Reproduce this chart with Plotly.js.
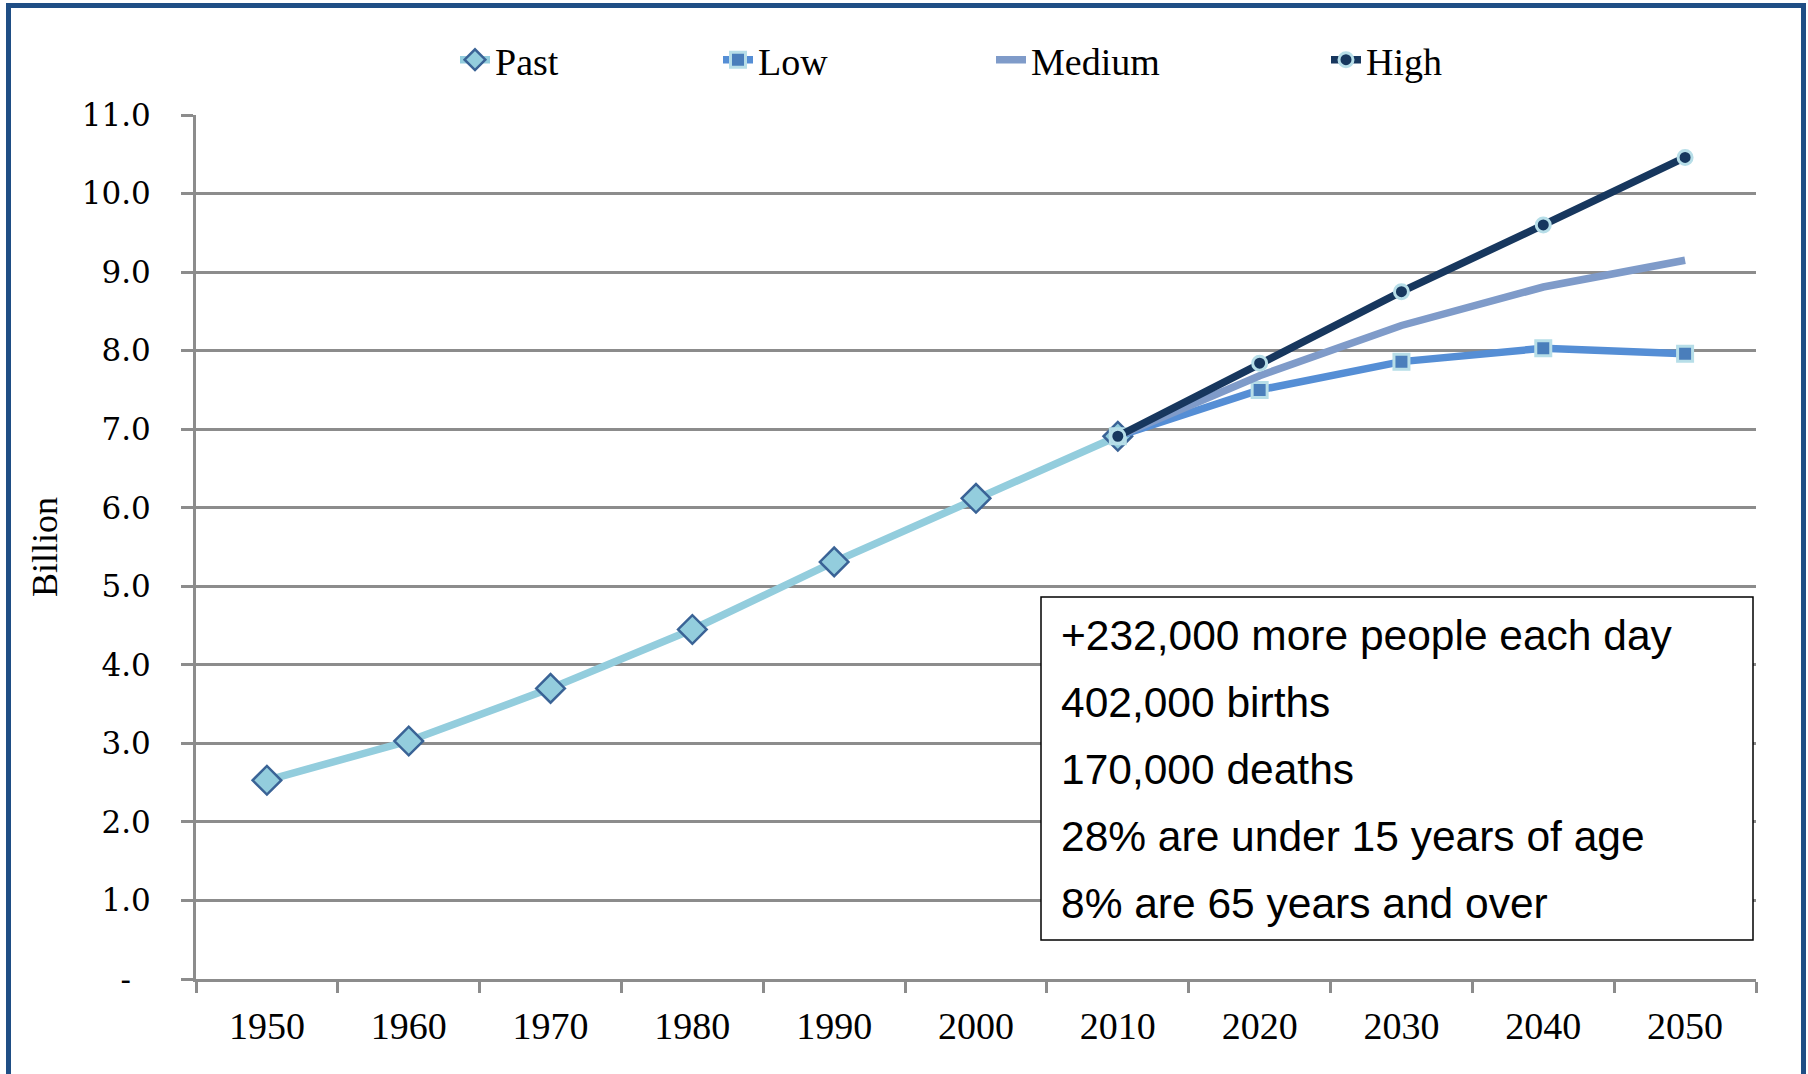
<!DOCTYPE html>
<html>
<head>
<meta charset="utf-8">
<script src="https://cdn.plot.ly/plotly-3.0.1.min.js"></script>
<style>
html, body { margin: 0; padding: 0; background: #ffffff; overflow: hidden; }
#chart { width: 1808px; height: 1074px; }
#frame { position: absolute; left: 6px; top: 3px; width: 1800px; height: 1100px;
         border: 5px solid #1f4e85; border-bottom: none; box-sizing: border-box; pointer-events: none; }
</style>
</head>
<body>
<div id="chart"></div>
<div id="frame"></div>
<script>
// ---- data ----
const years = ['1950','1960','1970','1980','1990','2000','2010','2020','2030','2040','2050'];
const pastYears = ['1950','1960','1970','1980','1990','2000','2010'];
const pastValues = [2.53, 3.03, 3.70, 4.45, 5.31, 6.12, 6.91];
const projYears = ['2010','2020','2030','2040','2050'];
const lowValues = [6.91, 7.50, 7.86, 8.03, 7.96];
const mediumValues = [6.91, 7.68, 8.32, 8.81, 9.15];
const highValues = [6.91, 7.84, 8.75, 9.60, 10.46];
const seriesNames = ['Past', 'Low', 'Medium', 'High'];
const yTickValues = [0, 1, 2, 3, 4, 5, 6, 7, 8, 9, 10, 11];
const yTickLabels = ['-\u00a0\u00a0', '1.0', '2.0', '3.0', '4.0', '5.0', '6.0', '7.0', '8.0', '9.0', '10.0', '11.0'];
const yTitle = 'Billion';
const factLines = [
  '+232,000 more people each day',
  '402,000 births',
  '170,000 deaths',
  '28% are under 15 years of age',
  '8% are 65 years and over'
];

// ---- layout geometry (pixels) ----
const W = 1808, H = 1074;
const M = { l: 196, r: 52, t: 115, b: 95 };
const plotW = W - M.l - M.r, plotH = H - M.t - M.b;
const px = x => (x - M.l) / plotW;
const py = y => (H - M.b - y) / plotH;

const GRID = '#8c8c8c';

const traces = [
  {
    name: seriesNames[0], x: pastYears, y: pastValues, type: 'scatter', mode: 'lines+markers',
    line: { color: '#93cddd', width: 7.5 },
    marker: { symbol: 'diamond', size: 22, color: '#93cddd', line: { color: '#3a6396', width: 2.5 } },
    legend: 'legend'
  },
  {
    name: seriesNames[1], x: projYears, y: lowValues, type: 'scatter', mode: 'lines+markers',
    line: { color: '#558ed5', width: 7.5 },
    marker: { symbol: 'square', size: 15, color: '#4a7ebb', line: { color: '#b7dee8', width: 3 } },
    legend: 'legend2'
  },
  {
    name: seriesNames[2], x: projYears, y: mediumValues, type: 'scatter', mode: 'lines',
    line: { color: '#7f9bc9', width: 7.5 },
    legend: 'legend3'
  },
  {
    name: seriesNames[3], x: projYears, y: highValues, type: 'scatter', mode: 'lines+markers',
    line: { color: '#17375e', width: 7.5 },
    marker: { symbol: 'circle', size: 14, color: '#17375e', line: { color: '#b7dee8', width: 3 } },
    legend: 'legend4'
  }
];

const legendFont = { family: 'Liberation Serif, Times New Roman, serif', size: 38, color: '#000000' };
function mkLegend(xPix) {
  return { x: px(xPix), y: py(60), xanchor: 'left', yanchor: 'middle', orientation: 'h',
           font: legendFont, bgcolor: 'rgba(0,0,0,0)', borderwidth: 0 };
}

const annotations = factLines.map((t, i) => ({
  text: t, xref: 'paper', yref: 'paper', x: px(1059), y: py(635 + i * 67),
  xanchor: 'left', yanchor: 'middle', showarrow: false, align: 'left',
  font: { family: 'Liberation Sans, Arial, sans-serif', size: 42.5, color: '#000000' }
}));

const layout = {
  width: W, height: H,
  margin: M,
  paper_bgcolor: '#ffffff', plot_bgcolor: '#ffffff',
  showlegend: true,
  legend: mkLegend(455),
  legend2: mkLegend(718),
  legend3: mkLegend(991),
  legend4: mkLegend(1326),
  xaxis: {
    type: 'category', categoryorder: 'array', categoryarray: years,
    range: [-0.5, years.length - 0.5], tickson: 'boundaries',
    ticks: 'outside', ticklen: 11, tickwidth: 3, tickcolor: GRID,
    showline: true, linecolor: GRID, linewidth: 3, showgrid: false, zeroline: false,
    tickfont: { family: 'Liberation Serif, Times New Roman, serif', size: 38, color: '#000000' },
    ticklabelstandoff: 11, fixedrange: true
  },
  yaxis: {
    range: [0, 11], tickmode: 'array', tickvals: yTickValues, ticktext: yTickLabels,
    ticks: 'outside', ticklen: 12, tickwidth: 3, tickcolor: GRID,
    showline: true, linecolor: GRID, linewidth: 3,
    showgrid: true, gridcolor: GRID, gridwidth: 3, zeroline: false,
    tickfont: { family: 'DejaVu Serif, serif', size: 31, color: '#000000' },
    ticklabelstandoff: 24,
    title: { text: yTitle, font: { family: 'Liberation Serif, Times New Roman, serif', size: 36, color: '#000000' }, standoff: 14 },
    fixedrange: true
  },
  shapes: [
    { type: 'rect', xref: 'paper', yref: 'paper', x0: px(1041), x1: px(1753), y0: py(940), y1: py(597),
      line: { color: '#000000', width: 1.5 }, fillcolor: '#ffffff', layer: 'above' }
  ],
  annotations: annotations
};

Plotly.newPlot('chart', traces, layout, { displayModeBar: false, staticPlot: true });
</script>
</body>
</html>
